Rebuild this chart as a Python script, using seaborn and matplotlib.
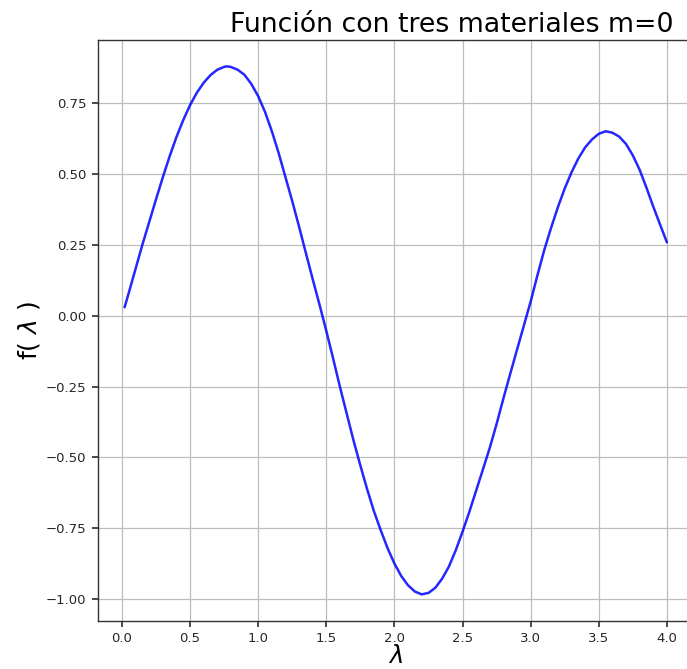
import matplotlib
matplotlib.use("Agg")
import matplotlib.pyplot as plt
import seaborn as sns
import pandas as pd

# Sampled values of f(λ) for the three-material function, m = 0
lam = [0.02, 0.05, 0.10, 0.15, 0.20, 0.25, 0.30, 0.35, 0.40, 0.45,
       0.50, 0.55, 0.60, 0.65, 0.70, 0.75, 0.77, 0.80, 0.85, 0.90,
       0.95, 1.00, 1.05, 1.10, 1.15, 1.20, 1.25, 1.30, 1.35, 1.40,
       1.45, 1.50, 1.55, 1.60, 1.65, 1.70, 1.75, 1.80, 1.85, 1.90,
       1.95, 2.00, 2.05, 2.10, 2.15, 2.20, 2.25, 2.30, 2.35, 2.40,
       2.45, 2.50, 2.55, 2.60, 2.65, 2.70, 2.75, 2.80, 2.85, 2.90,
       2.95, 3.00, 3.05, 3.10, 3.15, 3.20, 3.25, 3.30, 3.35, 3.40,
       3.45, 3.50, 3.55, 3.60, 3.65, 3.70, 3.75, 3.80, 3.85, 3.90,
       3.95, 4.00]
f_lam = [0.030, 0.080, 0.165, 0.250, 0.330, 0.410, 0.488, 0.562, 0.630, 0.690,
         0.743, 0.787, 0.822, 0.849, 0.868, 0.878, 0.880, 0.878, 0.868, 0.850,
         0.818, 0.775, 0.720, 0.652, 0.575, 0.490, 0.405, 0.315, 0.222, 0.130,
         0.040, -0.053, -0.150, -0.250, -0.345, -0.440, -0.528, -0.612, -0.690, -0.757,
         -0.820, -0.874, -0.918, -0.951, -0.973, -0.983, -0.978, -0.960, -0.928, -0.885,
         -0.828, -0.762, -0.692, -0.617, -0.542, -0.466, -0.382, -0.292, -0.205, -0.120,
         -0.035, 0.050, 0.143, 0.232, 0.310, 0.383, 0.449, 0.506, 0.555, 0.594,
         0.622, 0.642, 0.651, 0.646, 0.632, 0.606, 0.566, 0.515, 0.452, 0.385,
         0.322, 0.259]

x_ticks = [0.0, 0.5, 1.0, 1.5, 2.0, 2.5, 3.0, 3.5, 4.0]
y_ticks = [-1.00, -0.75, -0.50, -0.25, 0.00, 0.25, 0.50, 0.75]

title = "Función con tres materiales m=0"
x_label = r"$\lambda$"
y_label = r"f( $\lambda$ )"

df = pd.DataFrame({"lam": lam, "f": f_lam})

sns.set_theme(style="whitegrid", rc={
    "axes.edgecolor": "#333333",
    "axes.linewidth": 1.0,
    "grid.color": "#bdbdbd",
    "grid.linewidth": 0.9,
    "xtick.bottom": True,
    "ytick.left": True,
    "xtick.direction": "out",
    "ytick.direction": "out",
    "xtick.major.size": 4.5,
    "ytick.major.size": 4.5,
    "xtick.color": "#333333",
    "ytick.color": "#333333",
})
plt.rcParams["font.family"] = ["DejaVu Sans"]

W, H = 687, 669
fig = plt.figure(figsize=(W / 100, H / 100), dpi=100)
left, right, top, bottom = 97.5, 694.0, 40.0, 621.0
ax = fig.add_axes([left / W, 1 - bottom / H, (right - left) / W, (bottom - top) / H])

sns.lineplot(data=df, x="lam", y="f", color="blue", linewidth=1.8,
             alpha=0.85, ax=ax)

ax.set_xlim(-0.179, 4.199)
ax.set_ylim(-1.077, 0.973)
ax.set_xticks(x_ticks)
ax.set_yticks(y_ticks)
ax.set_xticklabels([f"{v:.1f}" for v in x_ticks], fontsize=9.5, color="#262626")
ax.set_yticklabels([f"{v:.2f}".replace("-", "\u2212") for v in y_ticks],
                   fontsize=9.5, color="#262626")

ax.set_xlabel(x_label, fontsize=17.5, labelpad=-1, color="black")
ax.set_ylabel(y_label, fontsize=18, labelpad=3, color="black")
ax.set_title(title, fontsize=19.3, x=0.594, pad=6, color="black")

for side in ["left", "bottom", "top", "right"]:
    ax.spines[side].set_visible(True)
    ax.spines[side].set_color("#333333")

fig.savefig("out.png", dpi=100)
